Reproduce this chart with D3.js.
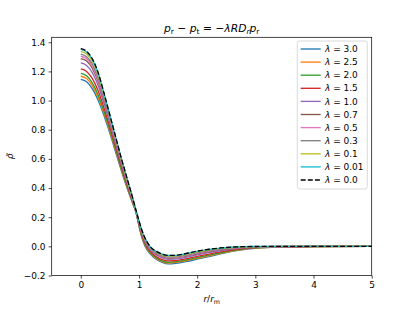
<!DOCTYPE html>
<html>
<head>
<meta charset="utf-8">
<script src="https://cdn.jsdelivr.net/npm/d3@7"></script>
<style>
body { margin: 0; background: #fff; }
text { font-family: "DejaVu Sans", sans-serif; fill: #000; }
</style>
</head>
<body>
<svg id="chart" width="413" height="310"></svg>
<script>
// r / r_m sample points, shared by every curve
var radius = [0, 0.1, 0.2, 0.3, 0.4, 0.5, 0.6, 0.7, 0.8, 0.9, 0.95, 1.0, 1.05, 1.1, 1.2, 1.3, 1.4, 1.5, 1.6, 1.8, 2.0, 2.2, 2.4, 2.6, 2.8, 3.0, 3.5, 4.0, 5.0];

var rho30 = [1.145,1.129,1.080,1.000,0.895,0.775,0.645,0.515,0.395,0.285,0.230,0.140,0.060,0.005,-0.055,-0.090,-0.110,-0.120,-0.118,-0.105,-0.088,-0.070,-0.052,-0.035,-0.022,-0.013,-0.004,-0.001,0];
var rho25 = [1.167,1.151,1.101,1.020,0.911,0.788,0.656,0.524,0.402,0.289,0.232,0.144,0.065,0.011,-0.050,-0.084,-0.104,-0.114,-0.112,-0.099,-0.082,-0.065,-0.048,-0.032,-0.020,-0.012,-0.004,-0.001,0];
var rho20 = [1.186,1.170,1.120,1.037,0.925,0.799,0.665,0.531,0.408,0.292,0.233,0.147,0.070,0.016,-0.045,-0.079,-0.099,-0.109,-0.107,-0.094,-0.077,-0.060,-0.044,-0.029,-0.018,-0.011,-0.003,-0.001,0];
var rho15 = [1.217,1.200,1.150,1.065,0.948,0.818,0.681,0.544,0.417,0.297,0.235,0.152,0.077,0.024,-0.038,-0.071,-0.091,-0.100,-0.099,-0.086,-0.069,-0.053,-0.038,-0.025,-0.015,-0.009,-0.003,-0.001,0];
var rho10 = [1.258,1.241,1.190,1.102,0.978,0.842,0.701,0.561,0.430,0.304,0.238,0.159,0.087,0.034,-0.028,-0.061,-0.079,-0.089,-0.088,-0.076,-0.059,-0.043,-0.030,-0.019,-0.011,-0.007,-0.002,0,0];
var rho07 = [1.288,1.271,1.219,1.129,1.000,0.860,0.716,0.573,0.439,0.309,0.240,0.164,0.094,0.042,-0.021,-0.053,-0.071,-0.081,-0.080,-0.068,-0.051,-0.036,-0.024,-0.015,-0.008,-0.005,-0.001,0,0];
var rho05 = [1.304,1.287,1.235,1.143,1.012,0.869,0.724,0.579,0.444,0.311,0.241,0.166,0.098,0.046,-0.017,-0.049,-0.067,-0.076,-0.076,-0.064,-0.047,-0.032,-0.021,-0.012,-0.007,-0.004,-0.001,0,0];
var rho03 = [1.319,1.301,1.249,1.157,1.023,0.878,0.732,0.585,0.449,0.314,0.242,0.169,0.101,0.050,-0.014,-0.045,-0.063,-0.072,-0.072,-0.060,-0.043,-0.029,-0.018,-0.010,-0.006,-0.003,-0.001,0,0];
var rho01 = [1.338,1.320,1.268,1.174,1.037,0.889,0.741,0.593,0.454,0.317,0.244,0.172,0.106,0.055,-0.009,-0.040,-0.058,-0.067,-0.067,-0.055,-0.038,-0.024,-0.014,-0.008,-0.004,-0.002,0,0,0];
var rho001 = [1.352,1.334,1.281,1.186,1.047,0.898,0.748,0.598,0.459,0.319,0.245,0.174,0.109,0.059,-0.006,-0.036,-0.054,-0.063,-0.063,-0.051,-0.034,-0.021,-0.012,-0.006,-0.002,-0.001,0,0,0];
var rho00 = [1.356,1.338,1.285,1.190,1.050,0.900,0.750,0.600,0.460,0.320,0.245,0.175,0.110,0.060,-0.005,-0.035,-0.053,-0.062,-0.062,-0.050,-0.033,-0.020,-0.011,-0.005,-0.002,-0.001,0,0,0];

var lambdas = ["3.0", "2.5", "2.0", "1.5", "1.0", "0.7", "0.5", "0.3", "0.1", "0.01", "0.0"];
var values = [rho30, rho25, rho20, rho15, rho10, rho07, rho05, rho03, rho01, rho001, rho00];
var colors = ["#1f77b4", "#ff7f0e", "#2ca02c", "#d62728", "#9467bd", "#8c564b",
              "#e377c2", "#7f7f7f", "#bcbd22", "#17becf", "#000000"];
var xTicks = [0, 1, 2, 3, 4, 5];
var yTicks = [-0.2, 0.0, 0.2, 0.4, 0.6, 0.8, 1.0, 1.2, 1.4];

(function() {
    var svg = d3.select("#chart");
    var left = 51.7, right = 371.7, plotTop = 37.3, bottom = 275.5;
    var fs = 8.96;

    var x = d3.scaleLinear().domain([-0.5, 5]).range([left, right]);
    var y = d3.scaleLinear().domain([-0.2, 1.434]).range([bottom, plotTop]);

    var series = values.map(function(v, i) {
        return {
            label: lambdas[i],
            color: colors[i],
            dashed: i == values.length - 1,
            points: radius.map(function(r, j) { return [r, v[j]]; })
        };
    });

    svg.append("defs").append("clipPath").attr("id", "plotclip")
        .append("rect")
        .attr("x", left).attr("y", plotTop)
        .attr("width", right - left).attr("height", bottom - plotTop);

    var line = d3.line()
        .x(function(d) { return x(d[0]); })
        .y(function(d) { return y(d[1]); })
        .curve(d3.curveMonotoneX);

    svg.append("g").attr("clip-path", "url(#plotclip)")
        .selectAll("path")
        .data(series)
        .enter().append("path")
        .attr("d", function(d) { return line(d.points); })
        .attr("fill", "none")
        .attr("stroke", function(d) { return d.color; })
        .attr("stroke-width", 1.34)
        .attr("stroke-dasharray", function(d) { return d.dashed ? "4.97,2.15" : null; });

    var minus = function(v) { return d3.format(".1f")(v).replace("-", "\u2212"); };

    var xAxis = svg.append("g")
        .attr("transform", "translate(0," + bottom + ")")
        .call(d3.axisBottom(x).tickValues(xTicks).tickSize(3.1).tickPadding(3.1)
              .tickFormat(d3.format("d")));
    var yAxis = svg.append("g")
        .attr("transform", "translate(" + left + ",0)")
        .call(d3.axisLeft(y).tickValues(yTicks).tickSize(3.1).tickPadding(3.1)
              .tickFormat(minus));

    [xAxis, yAxis].forEach(function(a) {
        a.select(".domain").remove();
        a.selectAll(".tick line").attr("stroke", "#000").attr("stroke-width", 0.72);
        a.selectAll(".tick text").attr("font-size", fs)
            .attr("font-family", "DejaVu Sans").attr("fill", "#000");
    });

    svg.append("rect")
        .attr("x", left).attr("y", plotTop)
        .attr("width", right - left).attr("height", bottom - plotTop)
        .attr("fill", "none").attr("stroke", "#000").attr("stroke-width", 0.72);

    // title: p_r - p_t = -lambda R D_r p_r
    var title = svg.append("text")
        .attr("x", (left + right) / 2).attr("y", 31.5)
        .attr("text-anchor", "middle").attr("font-size", 10.75);
    function part(t, txt, italic, sub) {
        var s = t.append("tspan").text(txt);
        if (italic) s.attr("font-style", "italic");
        if (sub) s.attr("font-size", 7.5).attr("dy", 2.2);
        return s;
    }
    function back(t) { return t.append("tspan").attr("dy", -2.2); }
    part(title, "p", true);
    part(title, "r", false, true);
    back(title).text(" \u2212 ");
    part(title, "p", true);
    part(title, "t", false, true);
    back(title).text(" = \u2212");
    part(title, "\u03bbRD", true);
    part(title, "r", true, true);
    back(title).attr("font-style", "italic").text("p");
    part(title, "r", false, true);

    // x label r / r_m
    var xl = svg.append("text")
        .attr("x", (left + right) / 2).attr("y", 302)
        .attr("text-anchor", "middle").attr("font-size", fs);
    part(xl, "r", true);
    xl.append("tspan").text("/");
    part(xl, "r", true);
    xl.append("tspan").attr("font-size", 6.3).attr("dy", 1.8).text("m");

    // y label rho tilde
    svg.append("text")
        .attr("transform", "translate(13," + ((plotTop + bottom) / 2) + ") rotate(-90)")
        .attr("text-anchor", "middle").attr("font-size", fs)
        .attr("font-style", "italic")
        .text("\u03c1\u0303");

    // legend
    var lg = svg.append("g");
    lg.append("rect")
        .attr("x", 297.3).attr("y", 41).attr("width", 70).attr("height", 148)
        .attr("rx", 2.5).attr("fill", "#fff").attr("fill-opacity", 0.8)
        .attr("stroke", "#cccccc").attr("stroke-width", 0.72);

    var entry = lg.selectAll(".entry")
        .data(series)
        .enter().append("g")
        .attr("class", "entry")
        .attr("transform", function(d, i) {
            return "translate(0," + (49 + i * 13.1) + ")"; });

    entry.append("line")
        .attr("x1", 300.7).attr("x2", 320.7)
        .attr("stroke", function(d) { return d.color; })
        .attr("stroke-width", 1.34)
        .attr("stroke-dasharray", function(d) { return d.dashed ? "4.97,2.15" : null; });

    var et = entry.append("text")
        .attr("x", 325).attr("dy", "0.35em").attr("font-size", fs);
    et.append("tspan").attr("font-style", "italic").text("\u03bb");
    et.append("tspan").text(function(d) { return " = " + d.label; });
})();
</script>
</body>
</html>
